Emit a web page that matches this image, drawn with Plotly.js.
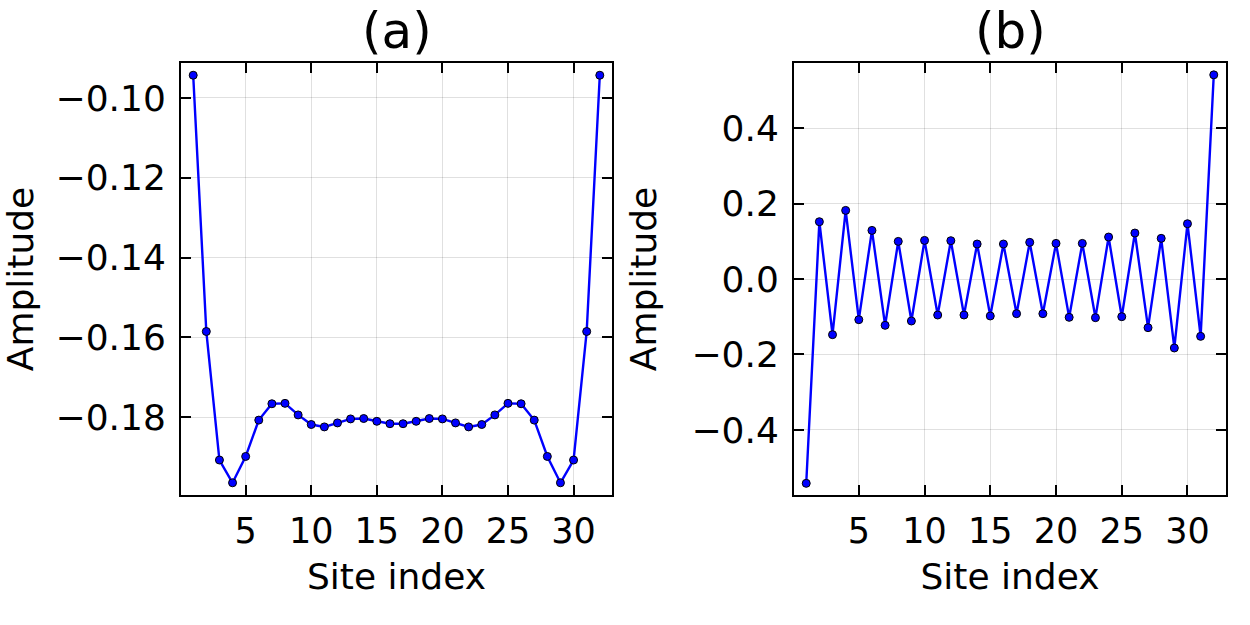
<!DOCTYPE html>
<html>
<head>
<meta charset="utf-8">
<script src="https://cdn.plot.ly/plotly-3.0.1.min.js"></script>
<style>
  html, body { margin: 0; padding: 0; background: #fff; }
  #chart { width: 1250px; height: 625px; }
</style>
</head>
<body>
<div id="chart"></div>
<script>
// Site indices 1..32
const sites = [1,2,3,4,5,6,7,8,9,10,11,12,13,14,15,16,17,18,19,20,21,22,23,24,25,26,27,28,29,30,31,32];

// (a) amplitudes of the symmetric state
const amplitudeA = [
  -0.0943, -0.1585, -0.1907, -0.1964, -0.1898, -0.1807, -0.1766, -0.1765,
  -0.1794, -0.1818, -0.1824, -0.1814, -0.1804, -0.1803, -0.1810, -0.1816,
  -0.1816, -0.1810, -0.1803, -0.1804, -0.1814, -0.1824, -0.1818, -0.1794,
  -0.1765, -0.1766, -0.1807, -0.1898, -0.1964, -0.1907, -0.1585, -0.0943
];

// (b) amplitudes of the staggered state
const amplitudeB = [
  -0.5415, 0.1518, -0.1475, 0.1818, -0.1078, 0.1288, -0.1228, 0.0997,
  -0.1113, 0.1023, -0.0954, 0.1015, -0.0954, 0.0927, -0.0980, 0.0927,
  -0.0919, 0.0971, -0.0919, 0.0944, -0.1016, 0.0944, -0.1025, 0.1112,
  -0.0999, 0.1218, -0.1290, 0.1077, -0.1828, 0.1465, -0.1520, 0.5410
];

const panelTitles = ['(a)', '(b)'];
const xTickVals = [5, 10, 15, 20, 25, 30];
const yTicksA = [-0.18, -0.16, -0.14, -0.12, -0.10];
const yTicksB = [-0.4, -0.2, 0.0, 0.2, 0.4];

const FONT = 'DejaVu Sans, sans-serif';
const lineColor = '#0000ff';

function series(y, xa, ya) {
  return {
    x: sites, y: y, xaxis: xa, yaxis: ya,
    type: 'scatter', mode: 'lines+markers',
    line: { color: lineColor, width: 2.4 },
    marker: { color: lineColor, size: 8, line: { color: '#000', width: 1 } },
    showlegend: false, hoverinfo: 'x+y'
  };
}

function xAxis(domain, anchor) {
  return {
    domain: domain, anchor: anchor,
    range: [0.07, 32.93],
    tickvals: xTickVals,
    ticks: 'inside', ticklen: 10, tickwidth: 2, tickcolor: '#000',
    showline: true, linecolor: '#000', linewidth: 2, mirror: 'ticks',
    showgrid: true, gridcolor: 'rgba(0,0,0,0.12)', gridwidth: 1,
    zeroline: false,
    ticklabelstandoff: 4,
    tickfont: { family: FONT, size: 35, color: '#000' },
    title: { text: 'Site index', font: { family: FONT, size: 36, color: '#000' }, standoff: 14 },
    automargin: false
  };
}

function yAxis(domain, anchor, range, vals, fmt) {
  return {
    domain: domain, anchor: anchor,
    range: range,
    tickvals: vals, tickformat: fmt,
    ticks: 'inside', ticklen: 10, tickwidth: 2, tickcolor: '#000',
    showline: true, linecolor: '#000', linewidth: 2, mirror: 'ticks',
    showgrid: true, gridcolor: 'rgba(0,0,0,0.12)', gridwidth: 1,
    zeroline: false,
    ticklabelstandoff: 6,
    tickfont: { family: FONT, size: 36, color: '#000' },
    title: { text: 'Amplitude', font: { family: FONT, size: 36, color: '#000' }, standoff: 24 },
    automargin: false
  };
}

const yDomain = [0.208, 0.8992];
const xDomA = [0.1448, 0.4896];
const xDomB = [0.6352, 0.9808];

const data = [
  series(amplitudeA, 'x', 'y'),
  series(amplitudeB, 'x2', 'y2')
];

const layout = {
  width: 1250, height: 625,
  margin: { l: 0, r: 0, t: 0, b: 0 },
  paper_bgcolor: '#fff', plot_bgcolor: '#fff',
  font: { family: FONT, color: '#000' },
  xaxis: xAxis(xDomA, 'y'),
  yaxis: yAxis(yDomain, 'x', [-0.19946, -0.09124], yTicksA, '.2f'),
  xaxis2: xAxis(xDomB, 'y2'),
  yaxis2: yAxis(yDomain, 'x2', [-0.5724, 0.5724], yTicksB, '.1f'),
  annotations: [
    { text: panelTitles[0], xref: 'paper', yref: 'paper',
      x: (xDomA[0] + xDomA[1]) / 2, y: 1 - 31 / 625, xanchor: 'center', yanchor: 'middle',
      showarrow: false, font: { family: FONT, size: 50, color: '#000' } },
    { text: panelTitles[1], xref: 'paper', yref: 'paper',
      x: (xDomB[0] + xDomB[1]) / 2, y: 1 - 31 / 625, xanchor: 'center', yanchor: 'middle',
      showarrow: false, font: { family: FONT, size: 50, color: '#000' } }
  ]
};

Plotly.newPlot('chart', data, layout, { displayModeBar: false, staticPlot: true });
</script>
</body>
</html>
